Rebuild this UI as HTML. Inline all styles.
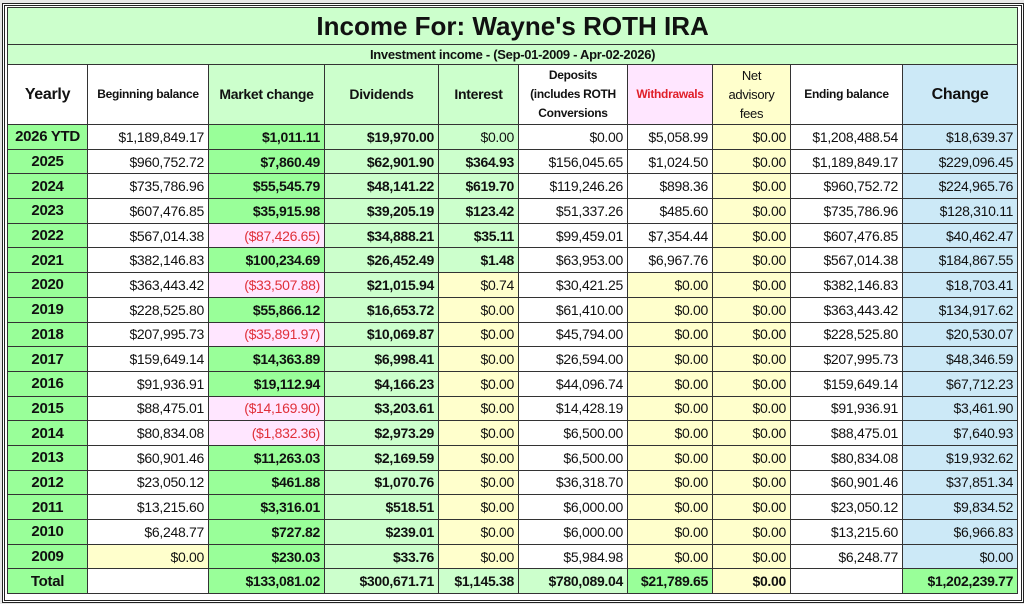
<!DOCTYPE html>
<html><head><meta charset="utf-8"><style>
html,body{margin:0;padding:0;background:#e8e8e8;}
body{width:1024px;height:604px;position:relative;overflow:hidden;font-family:"Liberation Sans",Arial,sans-serif;}
.frame{position:absolute;left:2px;top:3px;width:1016px;height:594px;border:3px double #222;background:#fff;}
table{position:absolute;left:7px;top:7px;border-collapse:collapse;table-layout:fixed;width:1010px;}
td{border:1px solid #333;padding:0 4px;font-size:14px;letter-spacing:-0.3px;height:23.7px;text-align:right;white-space:nowrap;overflow:hidden;color:#111;}
tr.title td{height:36px;font-size:26px;font-weight:bold;text-align:center;background:#ccffcc;letter-spacing:0;}
tr.sub td{height:19px;font-size:13px;font-weight:bold;text-align:center;background:#ccffcc;}
tr.hd td{height:59px;text-align:center;font-weight:bold;font-size:12.5px;line-height:19px;white-space:normal;}
td.y{text-align:center;font-weight:bold;font-size:15px;background:#99ff99;}
.g{background:#99ff99;font-weight:bold;}
.l{background:#ccffcc;}
.lb{background:#ccffcc;font-weight:bold;}
.ye{background:#ffffcc;}
.p{background:#ffe6ff;}
.neg{background:#ffe6ff;color:#e0303a;}
.b{background:#cce9f7;}
.w{background:#fff;}
</style></head><body>
<div class="frame"></div>
<table>
<colgroup><col style="width:80px"><col style="width:121px"><col style="width:116px"><col style="width:114px"><col style="width:80px"><col style="width:109px"><col style="width:85px"><col style="width:78px"><col style="width:112px"><col style="width:115px"></colgroup>
<tr class="title"><td colspan="10">Income For: Wayne's ROTH IRA</td></tr>
<tr class="sub"><td colspan="10">Investment income - (Sep-01-2009 - Apr-02-2026)</td></tr>
<tr class="hd"><td class="w" style="font-size:16px">Yearly</td><td class="w" style="font-size:12px">Beginning balance</td><td class="l" style="font-size:14px">Market change</td><td class="l" style="font-size:14px">Dividends</td><td class="l" style="font-size:14px">Interest</td><td class="w" style="font-size:12px">Deposits (includes ROTH Conversions</td><td class="p" style="color:#e0202a;font-size:12px">Withdrawals</td><td class="ye" style="font-weight:normal;font-size:13px;padding:0 12px">Net advisory fees</td><td class="w" style="font-size:12px">Ending balance</td><td class="b" style="font-size:16px">Change</td></tr>
<tr><td class="y">2026 YTD</td><td class="w">$1,189,849.17</td><td class="g">$1,011.11</td><td class="lb">$19,970.00</td><td class="l">$0.00</td><td class="w">$0.00</td><td class="w">$5,058.99</td><td class="ye">$0.00</td><td class="w">$1,208,488.54</td><td class="b">$18,639.37</td></tr>
<tr><td class="y">2025</td><td class="w">$960,752.72</td><td class="g">$7,860.49</td><td class="lb">$62,901.90</td><td class="lb">$364.93</td><td class="w">$156,045.65</td><td class="w">$1,024.50</td><td class="ye">$0.00</td><td class="w">$1,189,849.17</td><td class="b">$229,096.45</td></tr>
<tr><td class="y">2024</td><td class="w">$735,786.96</td><td class="g">$55,545.79</td><td class="lb">$48,141.22</td><td class="lb">$619.70</td><td class="w">$119,246.26</td><td class="w">$898.36</td><td class="ye">$0.00</td><td class="w">$960,752.72</td><td class="b">$224,965.76</td></tr>
<tr><td class="y">2023</td><td class="w">$607,476.85</td><td class="g">$35,915.98</td><td class="lb">$39,205.19</td><td class="lb">$123.42</td><td class="w">$51,337.26</td><td class="w">$485.60</td><td class="ye">$0.00</td><td class="w">$735,786.96</td><td class="b">$128,310.11</td></tr>
<tr><td class="y p">2022</td><td class="w">$567,014.38</td><td class="neg">($87,426.65)</td><td class="lb">$34,888.21</td><td class="lb">$35.11</td><td class="w">$99,459.01</td><td class="w">$7,354.44</td><td class="ye">$0.00</td><td class="w">$607,476.85</td><td class="b">$40,462.47</td></tr>
<tr><td class="y">2021</td><td class="w">$382,146.83</td><td class="g">$100,234.69</td><td class="lb">$26,452.49</td><td class="lb">$1.48</td><td class="w">$63,953.00</td><td class="w">$6,967.76</td><td class="ye">$0.00</td><td class="w">$567,014.38</td><td class="b">$184,867.55</td></tr>
<tr><td class="y p">2020</td><td class="w">$363,443.42</td><td class="neg">($33,507.88)</td><td class="lb">$21,015.94</td><td class="ye">$0.74</td><td class="w">$30,421.25</td><td class="ye">$0.00</td><td class="ye">$0.00</td><td class="w">$382,146.83</td><td class="b">$18,703.41</td></tr>
<tr><td class="y">2019</td><td class="w">$228,525.80</td><td class="g">$55,866.12</td><td class="lb">$16,653.72</td><td class="ye">$0.00</td><td class="w">$61,410.00</td><td class="ye">$0.00</td><td class="ye">$0.00</td><td class="w">$363,443.42</td><td class="b">$134,917.62</td></tr>
<tr><td class="y p">2018</td><td class="w">$207,995.73</td><td class="neg">($35,891.97)</td><td class="lb">$10,069.87</td><td class="ye">$0.00</td><td class="w">$45,794.00</td><td class="ye">$0.00</td><td class="ye">$0.00</td><td class="w">$228,525.80</td><td class="b">$20,530.07</td></tr>
<tr><td class="y">2017</td><td class="w">$159,649.14</td><td class="g">$14,363.89</td><td class="lb">$6,998.41</td><td class="ye">$0.00</td><td class="w">$26,594.00</td><td class="ye">$0.00</td><td class="ye">$0.00</td><td class="w">$207,995.73</td><td class="b">$48,346.59</td></tr>
<tr><td class="y">2016</td><td class="w">$91,936.91</td><td class="g">$19,112.94</td><td class="lb">$4,166.23</td><td class="ye">$0.00</td><td class="w">$44,096.74</td><td class="ye">$0.00</td><td class="ye">$0.00</td><td class="w">$159,649.14</td><td class="b">$67,712.23</td></tr>
<tr><td class="y p">2015</td><td class="w">$88,475.01</td><td class="neg">($14,169.90)</td><td class="lb">$3,203.61</td><td class="ye">$0.00</td><td class="w">$14,428.19</td><td class="ye">$0.00</td><td class="ye">$0.00</td><td class="w">$91,936.91</td><td class="b">$3,461.90</td></tr>
<tr><td class="y p">2014</td><td class="w">$80,834.08</td><td class="neg">($1,832.36)</td><td class="lb">$2,973.29</td><td class="ye">$0.00</td><td class="w">$6,500.00</td><td class="ye">$0.00</td><td class="ye">$0.00</td><td class="w">$88,475.01</td><td class="b">$7,640.93</td></tr>
<tr><td class="y">2013</td><td class="w">$60,901.46</td><td class="g">$11,263.03</td><td class="lb">$2,169.59</td><td class="ye">$0.00</td><td class="w">$6,500.00</td><td class="ye">$0.00</td><td class="ye">$0.00</td><td class="w">$80,834.08</td><td class="b">$19,932.62</td></tr>
<tr><td class="y">2012</td><td class="w">$23,050.12</td><td class="g">$461.88</td><td class="lb">$1,070.76</td><td class="ye">$0.00</td><td class="w">$36,318.70</td><td class="ye">$0.00</td><td class="ye">$0.00</td><td class="w">$60,901.46</td><td class="b">$37,851.34</td></tr>
<tr><td class="y">2011</td><td class="w">$13,215.60</td><td class="g">$3,316.01</td><td class="lb">$518.51</td><td class="ye">$0.00</td><td class="w">$6,000.00</td><td class="ye">$0.00</td><td class="ye">$0.00</td><td class="w">$23,050.12</td><td class="b">$9,834.52</td></tr>
<tr><td class="y">2010</td><td class="w">$6,248.77</td><td class="g">$727.82</td><td class="lb">$239.01</td><td class="ye">$0.00</td><td class="w">$6,000.00</td><td class="ye">$0.00</td><td class="ye">$0.00</td><td class="w">$13,215.60</td><td class="b">$6,966.83</td></tr>
<tr><td class="y">2009</td><td class="ye">$0.00</td><td class="g">$230.03</td><td class="lb">$33.76</td><td class="ye">$0.00</td><td class="w">$5,984.98</td><td class="ye">$0.00</td><td class="ye">$0.00</td><td class="w">$6,248.77</td><td class="b">$0.00</td></tr>
<tr><td class="y w">Total</td><td class="w"></td><td class="g">$133,081.02</td><td class="lb">$300,671.71</td><td class="lb">$1,145.38</td><td class="lb">$780,089.04</td><td class="g">$21,789.65</td><td class="ye" style="font-weight:bold">$0.00</td><td class="w"></td><td class="g">$1,202,239.77</td></tr>
</table>
</body></html>
